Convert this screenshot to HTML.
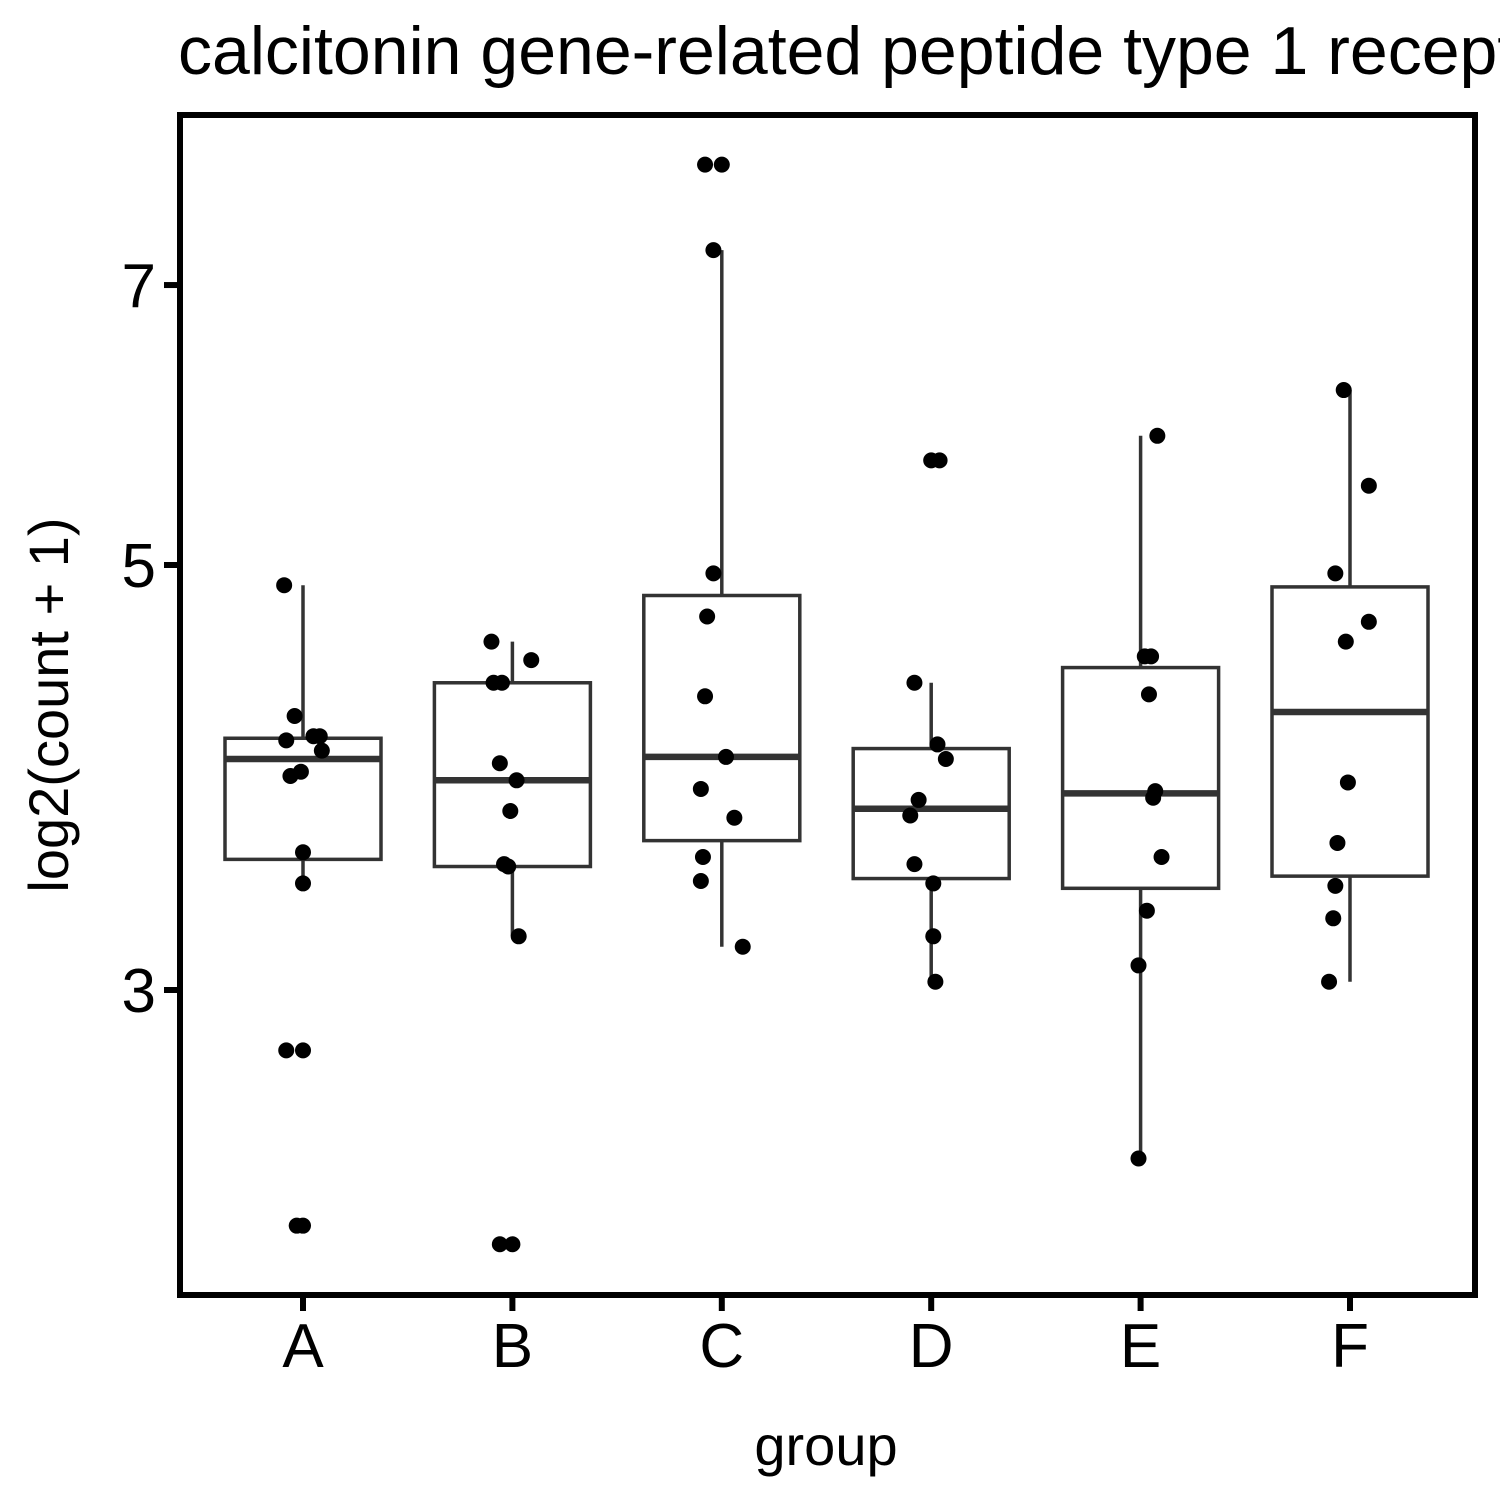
<!DOCTYPE html>
<html><head><meta charset="utf-8"><style>
html,body{margin:0;padding:0;background:#fff;overflow:hidden;}
svg text{font-family:"Liberation Sans",Arial,sans-serif;}
</style></head><body>
<svg id="chart" width="1500" height="1500" xmlns="http://www.w3.org/2000/svg">
<text x="178" y="74" font-size="68" fill="#000">calcitonin gene-related peptide type 1 receptor</text>
<text transform="translate(68,705) rotate(-90)" text-anchor="middle" font-size="56" fill="#000">log2(count + 1)</text>
<text x="826" y="1465" text-anchor="middle" font-size="56" fill="#000">group</text>
</svg>
<script>
const categories=["A","B","C","D","E","F"];
const q1=[3.51,3.48,3.59,3.43,3.39,3.44];
const medians=[3.96,3.86,3.97,3.73,3.80,4.19];
const q3=[4.06,4.34,4.82,4.01,4.42,4.87];
const whiskerLo=[3.41,3.20,3.16,3.03,2.45,3.03];
const whiskerHi=[4.88,4.56,7.30,4.34,5.84,6.17];
const pointGroup=[0,0,0,0,0,0,0,0,0,0,0,0,0,0, 1,1,1,1,1,1,1,1,1,1,1,1, 2,2,2,2,2,2,2,2,2,2,2,2, 3,3,3,3,3,3,3,3,3,3,3, 4,4,4,4,4,4,4,4,4,4, 5,5,5,5,5,5,5,5,5,5];
const pointValues=[4.88,4.17,4.05,4.07,4.07,4.00,3.90,3.88,3.54,3.41,2.79,2.79,2.26,2.26,
 4.56,4.46,4.34,4.34,3.94,3.86,3.72,3.49,3.48,3.20,2.21,2.21,
 8.09,8.09,7.30,4.95,4.70,4.27,3.97,3.82,3.69,3.52,3.42,3.16,
 5.67,5.67,4.34,4.03,3.96,3.77,3.70,3.49,3.41,3.20,3.03,
 5.84,4.48,4.48,4.28,3.81,3.78,3.52,3.30,3.09,2.45,
 6.17,5.50,4.95,4.67,4.56,3.85,3.58,3.40,3.27,3.03];
const jitter=[-0.09,-0.04,-0.08,0.05,0.08,0.09,-0.01,-0.06,0,0,-0.08,0,-0.03,0,
 -0.1,0.09,-0.09,-0.05,-0.06,0.02,-0.01,-0.04,-0.02,0.03,-0.06,0,
 -0.08,0,-0.04,-0.04,-0.07,-0.08,0.02,-0.1,0.06,-0.09,-0.1,0.1,
 0,0.04,-0.08,0.03,0.07,-0.06,-0.1,-0.08,0.01,0.01,0.02,
 0.08,0.02,0.05,0.04,0.07,0.06,0.1,0.03,-0.01,-0.01,
 -0.03,0.09,-0.07,0.09,-0.02,-0.01,-0.06,-0.07,-0.08,-0.1];
const yTicks=[3,5,7];
const NS="http://www.w3.org/2000/svg";
const svg=document.getElementById('chart');
const L=180,R=1475,T=115,B=1295;
function y(v){return 990-832*(Math.log(v)-Math.log(3));}
function x(i){return 303+i*209.4;}
function mk(tag,attrs,parent){const e=document.createElementNS(NS,tag);for(const k in attrs)e.setAttribute(k,attrs[k]);(parent||svg).appendChild(e);return e;}
const hw=78;
categories.forEach((c,i)=>{
  const g=mk('g',{});
  
  
  const wl=mk('line',{x1:x(i),x2:x(i),y1:y(whiskerHi[i]),y2:y(q3[i]),stroke:'#333','stroke-width':3.5},g);
  
  
  const wl2=mk('line',{x1:x(i),x2:x(i),y1:y(q1[i]),y2:y(whiskerLo[i]),stroke:'#333','stroke-width':3.5},g);
  
  
  const r=mk('rect',{x:x(i)-hw,y:y(q3[i]),width:hw*2,height:y(q1[i])-y(q3[i]),fill:'#fff',stroke:'#333','stroke-width':3.5},g);
  
  
  const m=mk('line',{x1:x(i)-hw,x2:x(i)+hw,y1:y(medians[i]),y2:y(medians[i]),stroke:'#333','stroke-width':6.5},g);
  
  
});
pointValues.forEach((v,k)=>{
  const p=mk('circle',{cx:x(pointGroup[k])+jitter[k]*209.4,cy:y(v),r:8,fill:'#000'});
  
  
});
const frame=mk('rect',{x:L,y:T,width:R-L,height:B-T,fill:'none',stroke:'#000','stroke-width':6});


yTicks.forEach(t=>{
  const tk=mk('line',{x1:164,x2:L,y1:y(t),y2:y(t),stroke:'#000','stroke-width':6});
  
  
  const tl=mk('text',{x:156,y:y(t)+22,'text-anchor':'end','font-size':62,fill:'#000'});
  tl.textContent=t;
  
  
});
categories.forEach((c,i)=>{
  const tk=mk('line',{x1:x(i),x2:x(i),y1:B,y2:B+16,stroke:'#000','stroke-width':6});
  
  
  const tl=mk('text',{x:x(i),y:1367,'text-anchor':'middle','font-size':62,fill:'#000'});
  tl.textContent=c;
  
  
});
</script>
</body></html>
